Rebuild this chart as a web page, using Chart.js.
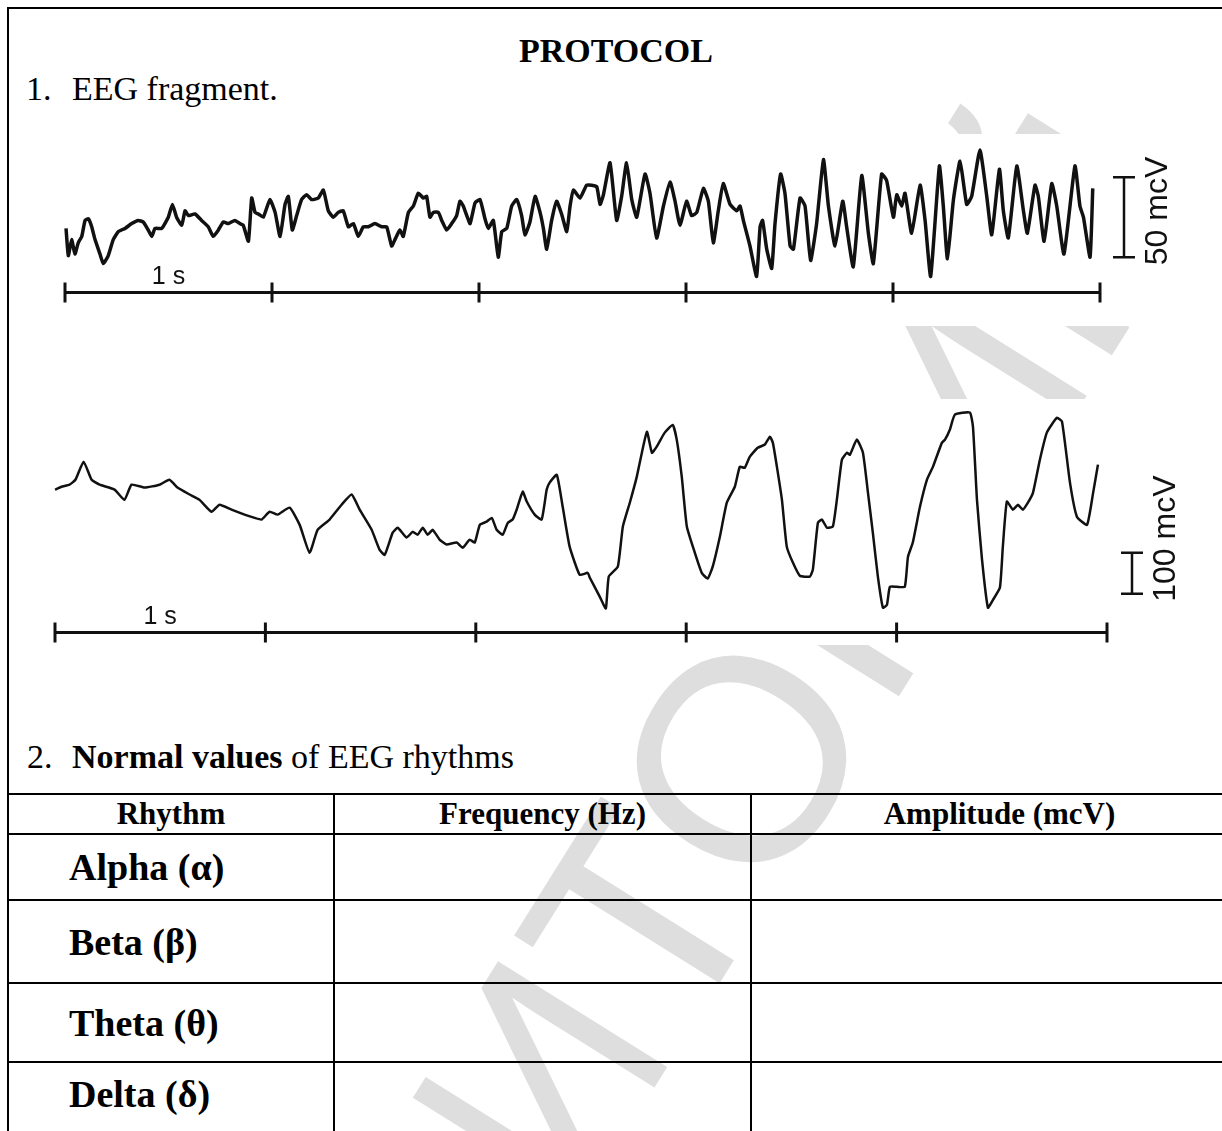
<!DOCTYPE html>
<html>
<head>
<meta charset="utf-8">
<script src="https://cdn.jsdelivr.net/npm/chart.js@4.4.1/dist/chart.umd.min.js"></script>
<style>
  html, body { margin: 0; padding: 0; background: #fff; }
  body { width: 1222px; height: 1131px; position: relative; overflow: hidden;
         font-family: "Liberation Serif", "Times New Roman", serif; color: #000; }
  .frame { position: absolute; left: 7px; top: 7px; width: 1300px; height: 1200px; z-index: 3;
           border-left: 2px solid #000; border-top: 2px solid #000; }
  .watermark { position: absolute; left: 540px; top: 1080px; white-space: nowrap; line-height: 1;
               transform: translate(-50%, -50%) rotate(-58deg);
               font-family: "Liberation Sans", Arial, sans-serif; font-size: 290px; color: #dedede; }
  .txt { position: absolute; font-size: 34px; line-height: 34px; white-space: nowrap; z-index: 2; }
  .title { left: 0; width: 1232px; top: 34px; text-align: center; font-weight: bold; }
  canvas { position: absolute; left: 30px; background: #fff; z-index: 1; }
  #eegTop { top: 134px; }
  #eegBottom { top: 399px; }
  table.rhythms { position: absolute; left: 7px; top: 793px; width: 1240px; border-collapse: collapse;
                  table-layout: fixed; z-index: 2; }
  table.rhythms th, table.rhythms td { border: 2px solid #000; padding: 0; }
  table.rhythms th { font-size: 31px; font-weight: bold; height: 38px; text-align: center; }
  table.rhythms td.name { font-size: 38px; font-weight: bold; padding-left: 60px; }
  table.rhythms td.top { vertical-align: top; padding-top: 9px; }
</style>
</head>
<body>
<div class="watermark">РЕПОЗИТОРИЙ</div>
<div class="frame"></div>

<div class="txt title">PROTOCOL</div>
<div class="txt" style="left:26px; top:72px;">1.</div>
<div class="txt" style="left:72px; top:72px;">EEG fragment.</div>

<canvas id="eegTop" width="1180" height="192"></canvas>
<canvas id="eegBottom" width="1180" height="246"></canvas>

<div class="txt" style="left:27px; top:740px;">2.</div>
<div class="txt" style="left:72px; top:740px;"><b>Normal values</b> of EEG rhythms</div>

<table class="rhythms">
  <colgroup><col style="width:326px"><col style="width:417px"><col style="width:497px"></colgroup>
  <tr><th>Rhythm</th><th>Frequency (Hz)</th><th>Amplitude (mcV)</th></tr>
  <tr style="height:66px"><td class="name">Alpha (α)</td><td></td><td></td></tr>
  <tr style="height:83px"><td class="name">Beta (β)</td><td></td><td></td></tr>
  <tr style="height:79px"><td class="name">Theta (θ)</td><td></td><td></td></tr>
  <tr style="height:80px"><td class="name top">Delta (δ)</td><td></td><td></td></tr>
</table>

<script>
// time in ms, amplitude in mcV
const topTrace = [
  [5,1],[16,-16],[32,-6],[48,-15],[64,-8],[81,-4],[97,6],[113,7],[129,2],[145,-6],
  [169,-15],[185,-21],[209,-16],[233,-6],[258,-1],[290,1],[322,4],[354,6],[378,5],[402,0],
  [419,-4],[435,1],[467,1],[499,8],[519,16],[539,8],[564,3],[580,12],[596,9],[628,10],
  [660,6],[692,2],[716,-4],[741,0],[765,5],[789,4],[821,6],[845,4],[861,3],[886,-7],
  [902,20],[918,11],[934,10],[958,8],[990,19],[1015,11],[1039,-4],[1063,16],[1079,21],[1098,0],
  [1119,9],[1143,19],[1167,22],[1192,19],[1224,20],[1248,25],[1272,12],[1296,8],[1320,11],[1344,12],
  [1369,2],[1393,4],[1417,-4],[1441,2],[1465,2],[1497,4],[1530,2],[1554,2],[1578,-10],[1594,-6],
  [1618,0],[1634,-4],[1659,11],[1683,15],[1707,23],[1731,20],[1747,21],[1763,8],[1779,11],[1804,11],
  [1820,6],[1844,0],[1868,4],[1892,9],[1908,18],[1924,15],[1941,9],[1957,4],[1981,17],[2005,19],
  [2029,7],[2045,1],[2069,6],[2093,-17],[2110,-1],[2134,1],[2158,15],[2182,19],[2206,9],[2222,-3],
  [2246,5],[2271,21],[2295,11],[2311,1],[2327,-12],[2351,6],[2375,18],[2399,10],[2424,-1],[2440,15],
  [2456,25],[2488,20],[2520,28],[2544,28],[2569,27],[2585,16],[2601,22],[2633,42],[2665,6],[2689,21],
  [2713,42],[2738,19],[2762,8],[2802,35],[2826,23],[2858,-5],[2891,15],[2923,30],[2947,18],[2971,3],
  [3003,18],[3027,9],[3052,11],[3084,26],[3108,18],[3132,-8],[3156,12],[3180,29],[3213,16],[3245,12],
  [3261,15],[3277,6],[3309,-10],[3341,-29],[3358,2],[3370,6],[3390,-12],[3414,-24],[3430,4],[3457,35],
  [3478,23],[3503,-10],[3519,-12],[3551,20],[3575,15],[3602,-19],[3631,4],[3664,44],[3688,15],[3720,-10],
  [3757,18],[3776,2],[3808,-23],[3849,34],[3881,-2],[3905,-21],[3945,35],[3969,31],[4002,8],[4018,22],
  [4042,15],[4058,23],[4090,-2],[4131,28],[4155,6],[4182,-29],[4224,40],[4243,15],[4263,-18],[4292,19],
  [4324,43],[4356,16],[4380,21],[4420,50],[4453,21],[4477,-3],[4514,38],[4533,12],[4557,-5],[4598,40],
  [4630,12],[4649,-2],[4686,28],[4702,21],[4730,-7],[4767,29],[4791,15],[4826,-15],[4879,40],[4903,15],
  [4920,8],[4952,-17],[4965,26]
];

const bottomTrace = [
  [0,49],[31,56],[69,61],[97,73],[136,117],[174,73],[212,61],[283,49],[330,24],[364,61],
  [426,54],[497,61],[544,73],[582,54],[640,37],[687,24],[744,-5],[782,12],[839,0],[901,-12],
  [949,-20],[982,-24],[1020,-5],[1058,-12],[1115,5],[1163,-37],[1210,-105],[1248,-49],[1305,-24],[1362,12],
  [1410,37],[1448,0],[1505,-49],[1543,-98],[1567,-110],[1605,-56],[1629,-44],[1671,-68],[1700,-54],[1724,-61],
  [1748,-44],[1771,-61],[1795,-49],[1828,-73],[1861,-85],[1909,-80],[1938,-93],[1971,-73],[1995,-80],[2019,-37],
  [2052,-29],[2076,-20],[2099,-49],[2128,-61],[2152,-32],[2175,-24],[2194,0],[2223,44],[2242,20],[2280,-12],
  [2313,-24],[2337,49],[2351,66],[2385,85],[2413,7],[2446,-90],[2494,-159],[2532,-154],[2542,-166],[2589,-212],
  [2618,-241],[2632,-163],[2675,-139],[2699,-41],[2732,17],[2765,80],[2813,190],[2837,139],[2860,154],[2898,188],
  [2936,207],[2955,171],[2979,80],[3003,-41],[3041,-105],[3074,-154],[3102,-168],[3126,-139],[3160,-66],[3193,17],
  [3231,56],[3255,105],[3278,102],[3302,129],[3340,151],[3374,159],[3398,178],[3412,163],[3431,105],[3455,24],
  [3478,-90],[3507,-129],[3540,-161],[3588,-163],[3602,-146],[3626,-32],[3645,-24],[3669,-44],[3697,-41],[3716,24],
  [3740,122],[3764,139],[3778,134],[3811,171],[3840,139],[3864,41],[3887,-56],[3911,-163],[3935,-239],[3954,-232],
  [3968,-188],[4001,-188],[4039,-188],[4054,-115],[4077,-80],[4111,7],[4144,73],[4173,105],[4215,163],[4230,171],
  [4253,195],[4277,232],[4348,237],[4363,202],[4382,24],[4406,-122],[4434,-239],[4458,-220],[4491,-190],[4505,-90],
  [4524,20],[4553,0],[4577,12],[4600,0],[4624,17],[4648,41],[4681,122],[4714,188],[4762,224],[4786,215],
  [4824,66],[4857,-17],[4905,-37],[4934,41],[4957,110]
];

// time ruler: one mark per second
const rulerTicks = [0, 1000, 2000, 3000, 4000, 5000];
const rulerLabel = '1 s';

// calibration bars [start, span] in mcV
const topCalibration = [-17, 50];
const bottomCalibration = [-205, 100];
const topCalLabel = '50 mcV';
const bottomCalLabel = '100 mcV';

const eegOverlay = {
  id: 'eegOverlay',
  afterDatasetsDraw(chart, args, opts) {
    const { ctx, chartArea } = chart;
    const xs = chart.scales.x, ys = chart.scales.y;
    const ry = Math.round(ys.getPixelForValue(opts.rulerAt)) + 0.5;
    ctx.save();
    ctx.strokeStyle = '#111';
    ctx.fillStyle = '#111';
    ctx.lineWidth = 3;
    ctx.beginPath();
    ctx.moveTo(xs.getPixelForValue(rulerTicks[0]), ry);
    ctx.lineTo(xs.getPixelForValue(rulerTicks[rulerTicks.length - 1]), ry);
    ctx.stroke();
    rulerTicks.forEach(t => {
      const px = xs.getPixelForValue(t);
      ctx.beginPath();
      ctx.moveTo(px, ry - 10);
      ctx.lineTo(px, ry + 10);
      ctx.stroke();
    });
    ctx.font = '25px "Liberation Sans", Arial, sans-serif';
    ctx.textAlign = 'center';
    ctx.textBaseline = 'alphabetic';
    ctx.fillText(rulerLabel, xs.getPixelForValue(500), ry - 9);

    // calibration bar
    const bx = chartArea.right + opts.barOffset;
    const yb = ys.getPixelForValue(opts.cal[0]);
    const yt = ys.getPixelForValue(opts.cal[0] + opts.cal[1]);
    ctx.lineWidth = 2.5;
    ctx.beginPath();
    ctx.moveTo(bx, yb); ctx.lineTo(bx, yt);
    ctx.moveTo(bx - 11, yb); ctx.lineTo(bx + 11, yb);
    ctx.moveTo(bx - 11, yt); ctx.lineTo(bx + 11, yt);
    ctx.stroke();
    ctx.translate(bx + 43, yb + 8);
    ctx.rotate(-Math.PI / 2);
    ctx.font = '32px "Liberation Sans", Arial, sans-serif';
    ctx.textAlign = 'left';
    ctx.fillText(opts.calLabel, 0, 0);
    ctx.restore();
  }
};

function eegChart(id, trace, yMin, yMax, pad, width, overlay) {
  return new Chart(document.getElementById(id), {
    type: 'line',
    data: {
      datasets: [{
        data: trace.map(p => ({ x: p[0], y: p[1] })),
        borderColor: '#111',
        borderWidth: width,
        pointRadius: 0,
        tension: 0.15,
        borderJoinStyle: 'round',
        clip: false
      }]
    },
    options: {
      responsive: false,
      animation: false,
      events: [],
      layout: { padding: pad },
      scales: {
        x: { type: 'linear', min: 0, max: 5000, display: false },
        y: { min: yMin, max: yMax, display: false }
      },
      plugins: { legend: { display: false }, tooltip: { enabled: false }, eegOverlay: overlay }
    },
    plugins: [eegOverlay]
  });
}

eegChart('eegTop', topTrace, -60, 60, { left: 35, right: 110, top: 0, bottom: 0 }, 3.5,
  { rulerAt: -39, cal: topCalibration, calLabel: topCalLabel, barOffset: 24 });
eegChart('eegBottom', bottomTrace, -330, 270, { left: 25, right: 103, top: 0, bottom: 0 }, 2.5,
  { rulerAt: -298, cal: bottomCalibration, calLabel: bottomCalLabel, barOffset: 25 });
</script>
</body>
</html>
